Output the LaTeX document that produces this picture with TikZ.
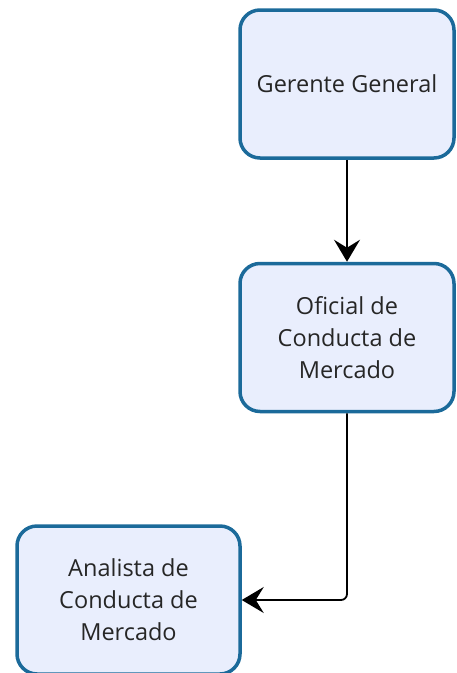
\documentclass[tikz,border=0pt]{standalone}
\usepackage{fontspec}
\setmainfont{Open Sans}
\usetikzlibrary{arrows.meta}
\definecolor{boxline}{HTML}{1B6A9A}
\definecolor{boxfill}{HTML}{E9EEFD}
\tikzset{
    puesto/.style={draw=boxline, fill=boxfill, line width=3.5pt, rounded corners=20pt,
        minimum width=214pt, minimum height=148pt, align=center, text=black!85,
        font=\fontsize{23.5}{32}\selectfont},
    enlace/.style={draw=black, line width=1.8pt, -{Stealth[length=22pt,width=26pt,inset=8pt]}}
}
\begin{document}
\begin{tikzpicture}[x=1pt,y=-1pt]
            \useasboundingbox (0,0) rectangle (457,673);

            \node[puesto] (gerente) at (347, 84) {Gerente General};
            \node[puesto] (oficial) at (347, 337.5) {Oficial de\\Conducta de\\Mercado};
            \node[puesto, minimum width=223pt] (analista) at (128.5, 600) {Analista de\\Conducta de\\Mercado};

            \draw[enlace] (gerente.south) -- (oficial.north);
            \draw[enlace, rounded corners=6pt] (oficial.south) |- (analista.east);
        \end{tikzpicture}
\end{document}
